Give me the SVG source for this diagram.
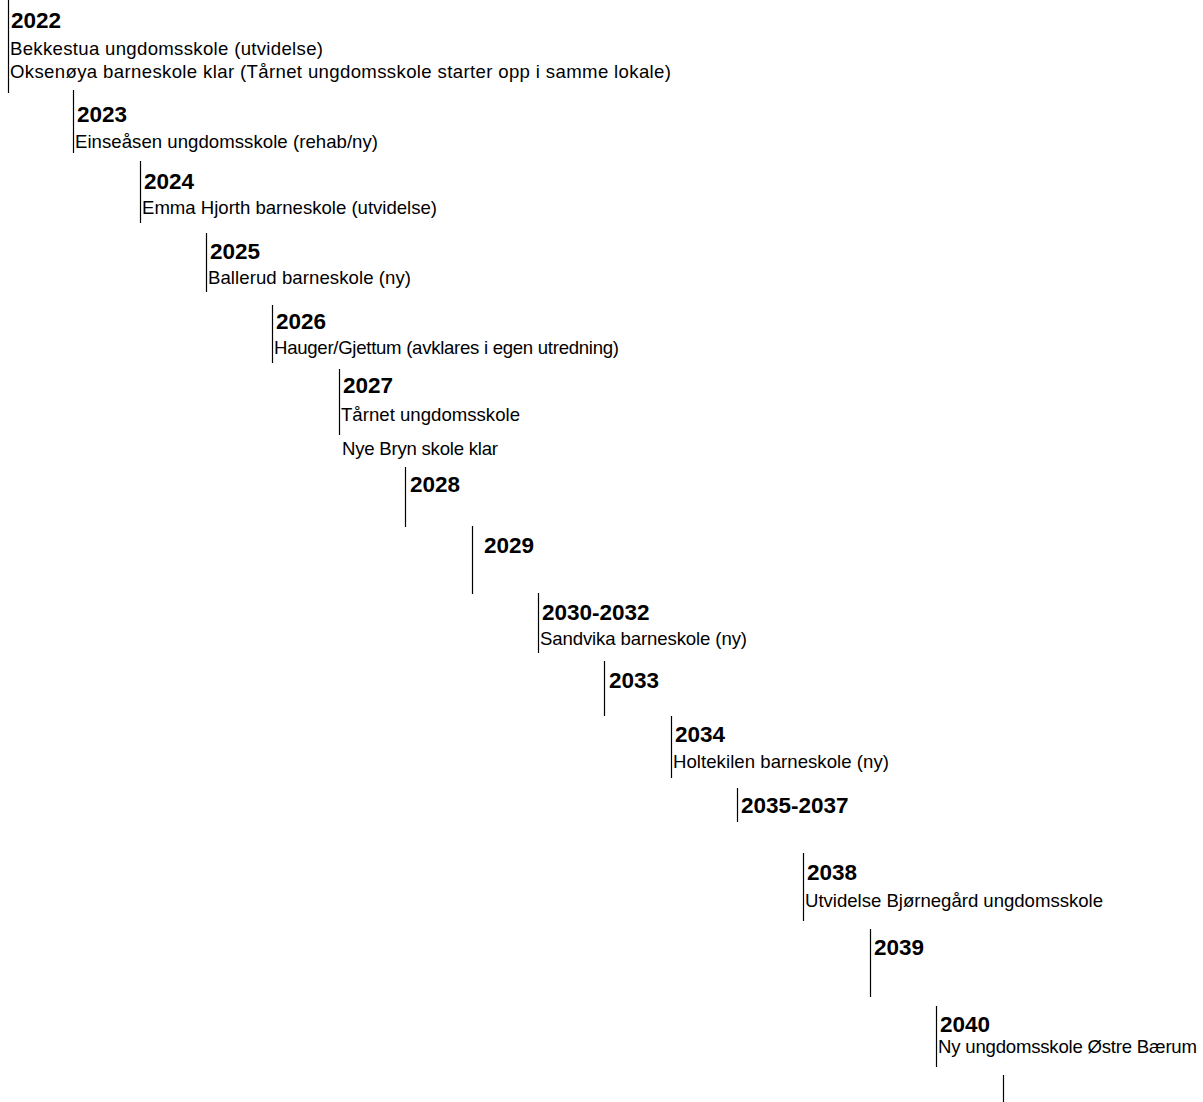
<svg xmlns="http://www.w3.org/2000/svg" width="1203" height="1102" viewBox="0 0 1203 1102">
<style>
.yr{font-family:"Liberation Sans",Arial,sans-serif;font-weight:bold;font-size:22.5px;fill:#000}
.tx{font-family:"Liberation Sans",Arial,sans-serif;font-size:18.6px;fill:#000}
.ln{stroke:#000;stroke-width:1.2;fill:none}
</style>
<rect width="1203" height="1102" fill="#fff"/>
<g id="connectors">
<line class="ln" x1="8.5" y1="0" x2="8.5" y2="93"/>
<line class="ln" x1="73.5" y1="90" x2="73.5" y2="153"/>
<line class="ln" x1="140.5" y1="161" x2="140.5" y2="223"/>
<line class="ln" x1="206.5" y1="233" x2="206.5" y2="292"/>
<line class="ln" x1="272.5" y1="305" x2="272.5" y2="363"/>
<line class="ln" x1="339.5" y1="369" x2="339.5" y2="435"/>
<line class="ln" x1="405.5" y1="467" x2="405.5" y2="527"/>
<line class="ln" x1="472.5" y1="526" x2="472.5" y2="594"/>
<line class="ln" x1="538.5" y1="593" x2="538.5" y2="653"/>
<line class="ln" x1="604.5" y1="661" x2="604.5" y2="716"/>
<line class="ln" x1="671.5" y1="716" x2="671.5" y2="778"/>
<line class="ln" x1="737.5" y1="788" x2="737.5" y2="822"/>
<line class="ln" x1="803.5" y1="853" x2="803.5" y2="921"/>
<line class="ln" x1="870.5" y1="929" x2="870.5" y2="997"/>
<line class="ln" x1="936.5" y1="1006" x2="936.5" y2="1067"/>
<line class="ln" x1="1003.5" y1="1075" x2="1003.5" y2="1102"/>
</g>
<g id="n2022"><text class="yr" x="11" y="28">2022</text><text class="tx" x="10" y="55" textLength="313">Bekkestua ungdomsskole (utvidelse)</text><text class="tx" x="10" y="78" textLength="661">Oksenøya barneskole klar (Tårnet ungdomsskole starter opp i samme lokale)</text></g>
<g id="n2023"><text class="yr" x="77" y="122">2023</text><text class="tx" x="75" y="148" textLength="303">Einseåsen ungdomsskole (rehab/ny)</text></g>
<g id="n2024"><text class="yr" x="144" y="189">2024</text><text class="tx" x="142" y="214" textLength="295">Emma Hjorth barneskole (utvidelse)</text></g>
<g id="n2025"><text class="yr" x="210" y="259">2025</text><text class="tx" x="208" y="284" textLength="203">Ballerud barneskole (ny)</text></g>
<g id="n2026"><text class="yr" x="276" y="329">2026</text><text class="tx" x="274" y="354" textLength="345">Hauger/Gjettum (avklares i egen utredning)</text></g>
<g id="n2027"><text class="yr" x="343" y="393">2027</text><text class="tx" x="341" y="421" textLength="179">Tårnet ungdomsskole</text><text class="tx" x="342" y="455" textLength="156">Nye Bryn skole klar</text></g>
<g id="n2028"><text class="yr" x="410" y="492">2028</text></g>
<g id="n2029"><text class="yr" x="484" y="553">2029</text></g>
<g id="n2030"><text class="yr" x="542" y="620">2030-2032</text><text class="tx" x="540" y="645" textLength="207">Sandvika barneskole (ny)</text></g>
<g id="n2033"><text class="yr" x="609" y="688">2033</text></g>
<g id="n2034"><text class="yr" x="675" y="742">2034</text><text class="tx" x="673" y="768" textLength="216">Holtekilen barneskole (ny)</text></g>
<g id="n2035"><text class="yr" x="741" y="813">2035-2037</text></g>
<g id="n2038"><text class="yr" x="807" y="880">2038</text><text class="tx" x="805" y="907" textLength="298">Utvidelse Bjørnegård ungdomsskole</text></g>
<g id="n2039"><text class="yr" x="874" y="955">2039</text></g>
<g id="n2040"><text class="yr" x="940" y="1032">2040</text><text class="tx" x="938" y="1053" textLength="259">Ny ungdomsskole Østre Bærum</text></g>
</svg>
